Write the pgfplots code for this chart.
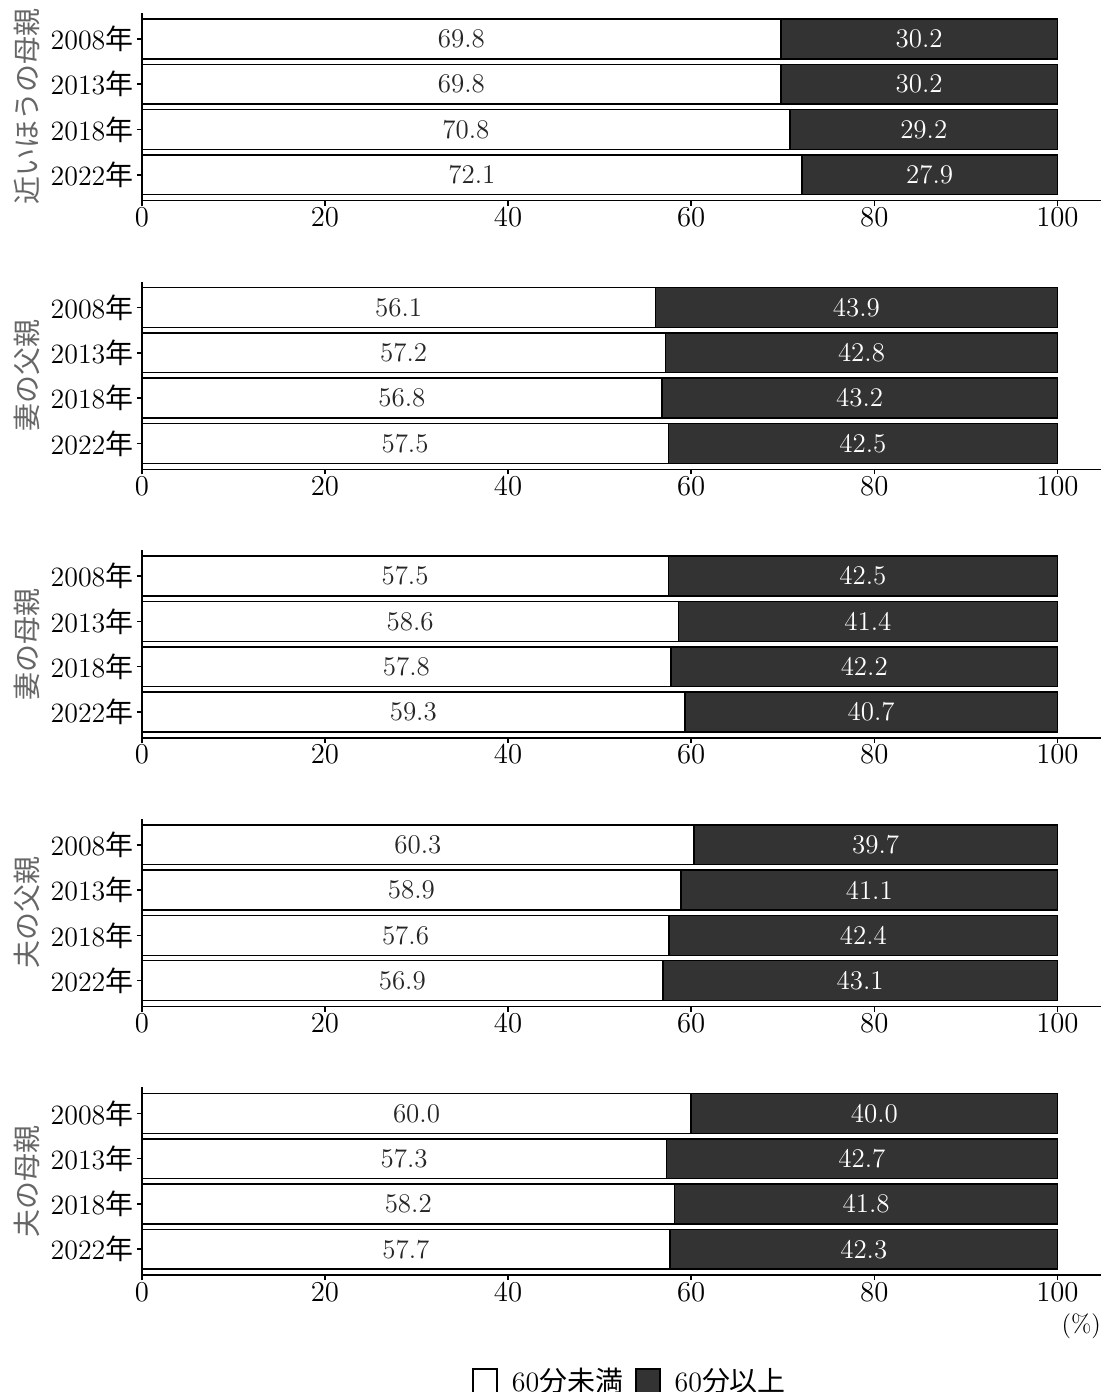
\documentclass[border=0pt]{standalone}
\usepackage{fontspec}
\usepackage{pgfplots}
\pgfplotsset{compat=1.18}
\usepgfplotslibrary{groupplots}
\usepackage{pgfplotstable}
\newfontfamily\cjk{Noto Sans CJK JP}
\definecolor{dark}{RGB}{51,51,51}

% y: 3=2008, 2=2013, 1=2018, 0=2022
\pgfplotstableread{
y a b
3 69.8 30.2
2 69.8 30.2
1 70.8 29.2
0 72.1 27.9
}\tA
\pgfplotstableread{
y a b
3 56.1 43.9
2 57.2 42.8
1 56.8 43.2
0 57.5 42.5
}\tB
\pgfplotstableread{
y a b
3 57.5 42.5
2 58.6 41.4
1 57.8 42.2
0 59.3 40.7
}\tC
\pgfplotstableread{
y a b
3 60.3 39.7
2 58.9 41.1
1 57.6 42.4
0 56.9 43.1
}\tD
\pgfplotstableread{
y a b
3 60.0 40.0
2 57.3 42.7
1 58.2 41.8
0 57.7 42.3
}\tE

\pgfplotsset{
  lbl/.style={point meta=explicit symbolic, nodes near coords,
    every node near coord/.append style={anchor=center, inner sep=0pt,
      font=\fontsize{13.5}{15}\selectfont, text=#1}},
}

\newcommand{\panel}[1]{%
  \addplot[fill=white, draw=black, line width=0.75pt, lbl=black!85]
    table[x=a, y=y, meta=a]{#1};
  \addplot[fill=dark, draw=black, line width=0.75pt, lbl=white]
    table[x=b, y=y, meta=b]{#1};
}

\begin{document}
\begin{tikzpicture}
\begin{groupplot}[
  group style={group size=1 by 5, vertical sep=40.5pt},
  width=480.5pt, height=94pt, scale only axis,
  xbar stacked, /pgf/bar width=0.88,
  xmin=0, xmax=104.8, ymin=-0.573, ymax=3.573,
  axis x line*=bottom, axis y line*=left,
  axis line style={line width=0.75pt, -},
  xtick={0,20,...,100}, ytick={0,1,2,3},
  yticklabels={{2022{\cjk 年}},{2018{\cjk 年}},{2013{\cjk 年}},{2008{\cjk 年}}},
  tick align=outside, major tick length=2.5pt,
  tick style={line width=0.75pt, black},
  ticklabel style={font=\fontsize{14}{16}\selectfont},
  yticklabel style={inner sep=1.5pt},
  xticklabel style={inner sep=1pt},
  every axis y label/.style={at={(rel axis cs:0,0.5)}, xshift=-57.5pt,
    rotate=90, anchor=center, font=\cjk\fontsize{14}{16}\selectfont, text=black!60},
  legend image code/.code={\draw[#1, line width=0.75pt] (0pt,-6pt) rectangle (12pt,6pt);},
  clip=false,
]
\nextgroupplot[ylabel={近いほうの母親}]
\coordinate (TL) at (rel axis cs:0,1);
\panel{\tA}
\nextgroupplot[ylabel={妻の父親}]
\panel{\tB}
\nextgroupplot[ylabel={妻の母親}]
\panel{\tC}
\nextgroupplot[ylabel={夫の父親}]
\panel{\tD}
\nextgroupplot[ylabel={夫の母親},
  legend style={at={(0.510,0)}, anchor=center, yshift=-53pt, draw=none,
    legend columns=2, font=\fontsize{14}{16}\selectfont,
    /tikz/every odd column/.append style={column sep=5pt},
    /tikz/every even column/.append style={column sep=4pt}}]
\panel{\tE}
\addlegendentry{60{\cjk 分未満}}
\addlegendentry{60{\cjk 分以上}}
\coordinate (BR) at (rel axis cs:1,0);
\node[anchor=north east, inner sep=0pt, yshift=-19pt, font=\fontsize{12.5}{14}\selectfont]
  at (rel axis cs:1,0) {(\%)};
\end{groupplot}
\pgfresetboundingbox
\path ([shift={(-71pt,6.5pt)}]TL) rectangle ([shift={(1pt,-58.5pt)}]BR);
\end{tikzpicture}
\end{document}
